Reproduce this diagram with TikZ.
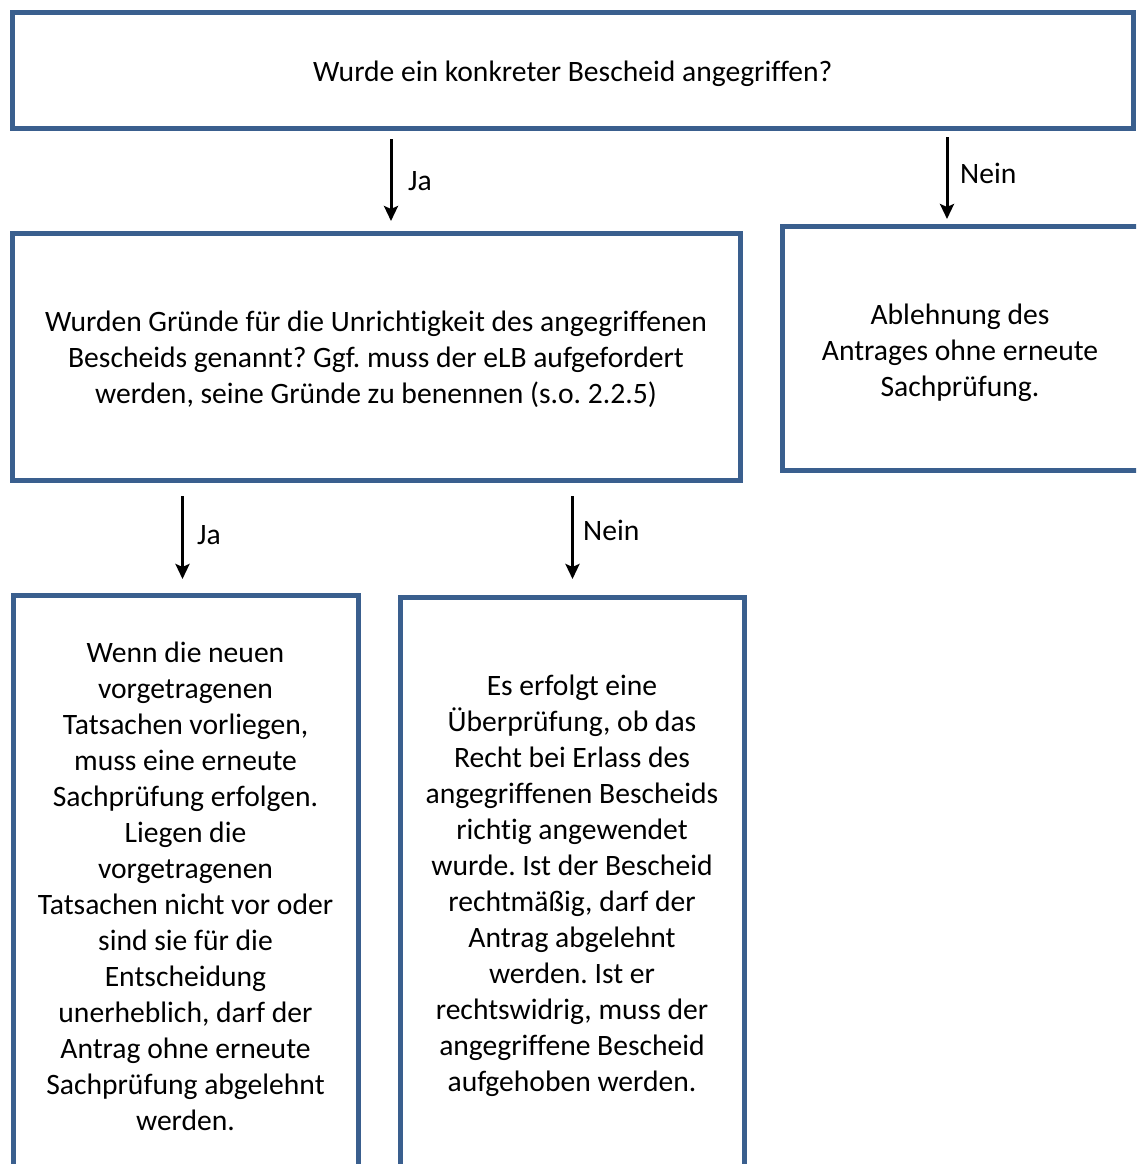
\documentclass[tikz,border=0pt]{standalone}
\usepackage{fontspec}
\setmainfont[Ligatures=NoCommon]{Carlito}
\frenchspacing
\usetikzlibrary{arrows.meta}
\definecolor{boxblue}{HTML}{3A5F8E}
\begin{document}
\begin{tikzpicture}[x=1pt,y=-1pt,
  box/.style={draw=boxblue,line width=5pt,fill=white,inner sep=0pt},
  txt/.style={align=center,inner sep=0pt,
    font=\fontsize{29.6pt}{36pt}\selectfont\frenchspacing},
  arr/.style={line width=3pt,-{Stealth[length=15pt,width=14pt,inset=3pt]}},
  lbl/.style={anchor=west,inner sep=0pt,font=\fontsize{29.6pt}{36pt}\selectfont}]
\useasboundingbox (0,0) rectangle (1136,1164);
\begin{scope}
\clip (0,0) rectangle (1136,1164);
\node[box,minimum width=1120.5pt,minimum height=115.5pt] (top) at (572.75,70.75) {};
\node[box,minimum width=728pt,minimum height=247pt] (mid) at (376,356.5) {};
\node[box,minimum width=358pt,minimum height=244pt] (right) at (961,348) {};
\node[box,minimum width=345pt,minimum height=580pt] (bl) at (185.5,885) {};
\node[box,minimum width=344pt,minimum height=570pt] (bm) at (572,882) {};
\end{scope}
\node[txt] (toptxt) at ([yshift=-3pt]top.center)
  {Wurde ein konkreter Bescheid angegriffen?};
\node[txt] (midtxt) at ([yshift=-3pt]mid.center)
  {Wurden Gründe für die Unrichtigkeit des angegriffenen\\Bescheids genannt? Ggf. muss der eLB aufgefordert\\werden, seine Gründe zu benennen (s.o. 2.2.5)};
\node[txt] (righttxt) at ([xshift=-1pt,yshift=-5pt]right.center)
  {Ablehnung des\\Antrages ohne erneute\\Sachprüfung.};
\node[txt] (bltxt) at ([yshift=-1pt]bl.center)
  {Wenn die neuen\\vorgetragenen\\Tatsachen vorliegen,\\muss eine erneute\\Sachprüfung erfolgen.\\Liegen die\\vorgetragenen\\Tatsachen nicht vor oder\\sind sie für die\\Entscheidung\\unerheblich, darf der\\Antrag ohne erneute\\Sachprüfung abgelehnt\\werden.};
\node[txt] (bmtxt) at ([yshift=-4pt]bm.center)
  {Es erfolgt eine\\Überprüfung, ob das\\Recht bei Erlass des\\angegriffenen Bescheids\\richtig angewendet\\wurde. Ist der Bescheid\\rechtmäßig, darf der\\Antrag abgelehnt\\werden. Ist er\\rechtswidrig, muss der\\angegriffene Bescheid\\aufgehoben werden.};
\coordinate (a1s) at (391,139);
\coordinate (a1e) at (391,221);
\coordinate (a2s) at (947,137);
\coordinate (a2e) at (947,219);
\coordinate (a3s) at (182.5,496);
\coordinate (a3e) at (182.5,579);
\coordinate (a4s) at (572.5,496);
\coordinate (a4e) at (572.5,579);
\draw[arr] (a1s) -- (a1e);
\draw[arr] (a2s) -- (a2e);
\draw[arr] (a3s) -- (a3e);
\draw[arr] (a4s) -- (a4e);
\node[lbl] (l1) at (408,181) {Ja};
\node[lbl] (l2) at (960,173) {Nein};
\node[lbl] (l3) at (197,535) {Ja};
\node[lbl] (l4) at (583,530) {Nein};
\end{tikzpicture}
\end{document}
